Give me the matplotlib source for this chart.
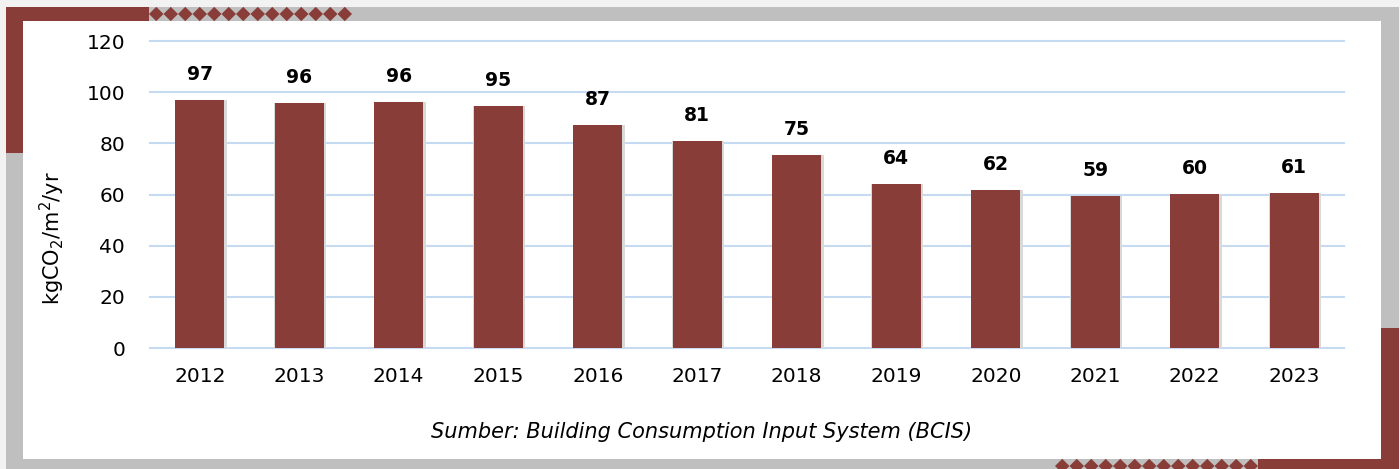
import matplotlib.pyplot as plt
from matplotlib.patches import Rectangle, Polygon
import numpy as np

plt.rcParams['font.family'] = ['DejaVu Sans']

# data
years = ['2012', '2013', '2014', '2015', '2016', '2017',
         '2018', '2019', '2020', '2021', '2022', '2023']
values = [96.8, 95.9, 96.1, 94.7, 87.2, 81.0, 75.4, 64.2, 61.9, 59.4, 60.2, 60.6]
labels = ['97', '96', '96', '95', '87', '81', '75', '64', '62', '59', '60', '61']
yticks = [0, 20, 40, 60, 80, 100, 120]

RED = '#893d39'
GRAY = '#bfbfbf'
W, H = 1400, 469

fig = plt.figure(figsize=(14, 4.69), dpi=100)
fig.patch.set_facecolor('#f2f2f2')

# pixel box -> figure fraction rectangle
def box(x0, y0, x1, y1, color, z=0):
    r = Rectangle((x0 / W, 1 - y1 / H), (x1 - x0) / W, (y1 - y0) / H,
                  transform=fig.transFigure, facecolor=color, edgecolor='none', zorder=z)
    fig.add_artist(r)

def diamonds(x0, x1, yc, n, z=1):
    w = (x1 - x0) / n
    hh = 7.2
    for i in range(n):
        cx = x0 + w * (i + 0.5)
        pts = [(cx - w / 2, yc), (cx, yc - hh), (cx + w / 2, yc), (cx, yc + hh)]
        pts = [(px / W, 1 - py / H) for px, py in pts]
        fig.add_artist(Polygon(pts, closed=True, transform=fig.transFigure,
                               facecolor=RED, edgecolor='none', zorder=z))

# frame
box(6, 7, 1399, 475, GRAY)
box(23, 21, 1381, 459, 'white')
box(6, 7, 149, 21, RED)
box(6, 7, 23, 153, RED)
box(1381, 328, 1399, 475, RED)
box(1258, 459, 1399, 475, RED)
diamonds(149, 352, 14, 14)
diamonds(1055, 1258, 466, 14)

ax = fig.add_axes([150 / W, 1 - 348 / H, (1344 - 150) / W, (348 - 41) / H])
ax.set_facecolor('none')
x = np.arange(len(years))
# soft shadow behind the bars
ax.bar(x + 0.01, values, width=0.52, color='#d9d9d9', zorder=2)
ax.bar(x, values, width=0.49, color=RED, zorder=3)
for xi, v, t in zip(x, values, labels):
    ax.text(xi, v + 10, t, ha='center', va='center', fontsize=13.5,
            fontweight='bold', color='black')

ax.set_xlim(-0.5, len(years) - 0.5)
ax.set_ylim(0, 120)
ax.set_yticks(yticks)
ax.set_xticks(x)
ax.set_xticklabels(years)
ax.tick_params(axis='both', length=0, labelsize=14.5, colors='black')
ax.tick_params(axis='y', pad=18)
ax.tick_params(axis='x', pad=14)
ax.grid(axis='y', color='#c6daf1', linewidth=1.5, zorder=0)
for gl in ax.get_ygridlines():
    gl.set_clip_on(False)
for s in ax.spines.values():
    s.set_visible(False)
ax.set_ylabel('kgCO$_2$/m$^2$/yr', fontsize=15, va='center')
ax.yaxis.set_label_coords(-0.082, 0.358)

fig.text(702 / W, 1 - 432 / H, 'Sumber: Building Consumption Input System (BCIS)',
         ha='center', va='center', fontsize=15, style='italic')

fig.savefig('out.png', dpi=100, facecolor=fig.get_facecolor())
